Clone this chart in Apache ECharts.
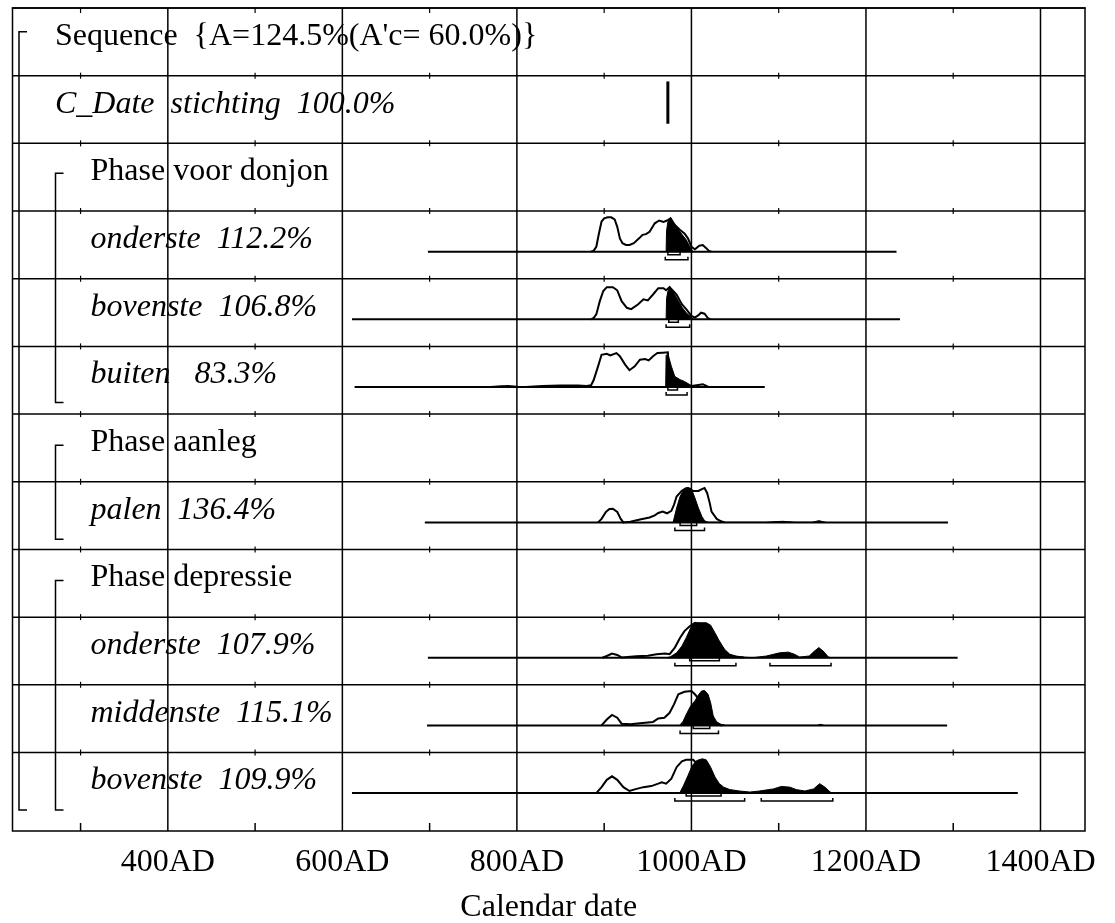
<!DOCTYPE html>
<html><head><meta charset="utf-8">
<script src="https://cdn.jsdelivr.net/npm/echarts@6/dist/echarts.min.js"></script>
<style>html,body{margin:0;padding:0;background:#fff}#c{width:1115px;height:923px}</style>
</head><body><div id="c"></div>
<script>
// ---------- axis data ----------
const xMin = 222, xMax = 1451;
const yMax = 12.16;
const tickLabels = [400, 600, 800, 1000, 1200, 1400];
const gridYears = [400, 600, 800, 1000, 1200, 1400];
const minorTicks = [300, 500, 700, 900, 1100, 1300];
const rowLines = [1, 2, 3, 4, 5, 6, 7, 8, 9, 10, 11];

// ---------- row labels ----------
const rowLabels = [
  "Sequence  {A=124.5%(A'c= 60.0%)}",
  "C_Date  stichting  100.0%",
  "Phase voor donjon",
  "onderste  112.2%",
  "bovenste  106.8%",
  "buiten   83.3%",
  "Phase aanleg",
  "palen  136.4%",
  "Phase depressie",
  "onderste  107.9%",
  "middenste  115.1%",
  "bovenste  109.9%"
];
const rowKinds = ['seq','date','phase','item','item','item','phase','item','phase','item','item','item'];

// group brackets: [topValue, bottomValue, level]
const groupBrackets = [[0.35, 11.85, 0], [2.44, 5.83, 1], [6.46, 7.85, 1], [8.46, 11.85, 1]];

// C_Date stichting
const cDateYear = 973;
const cDateSpan = [1.085, 1.71];

// ---------- distributions: [year, relative height] ----------
const ond1Span = [698, 1235];
const ond1Prior = [[885,0],[888,0.03],[891,0.14],[894,0.52],[897,0.86],[900,0.95],[904,0.98],[908,0.98],[912,0.92],[915,0.71],[918,0.38],[921,0.24],[925,0.19],[929,0.19],[934,0.24],[940,0.38],[944,0.48],[948,0.5],[952,0.57],[958,0.81],[963,0.89],[968,0.85],[972,0.89],[976,0.95],[981,0.76],[987,0.62],[992,0.52],[996,0.38],[1000,0.14],[1004,0.07],[1009,0.17],[1013,0.19],[1017,0.1],[1020,0.02],[1023,0]];
const ond1Post = [[971,0],[971.5,0.6],[973,0.85],[976,0.98],[979,0.85],[983,0.7],[988,0.53],[994,0.34],[999,0.1],[1002,0]];
const ond1S1 = [[973,987]];
const ond1S2 = [[970,996]];

const bov1Span = [611, 1239];
const bov1Prior = [[885,0],[888,0.04],[891,0.14],[895,0.52],[899,0.81],[903,0.92],[910,0.92],[915,0.83],[920,0.52],[926,0.33],[931,0.29],[939,0.43],[945,0.57],[950,0.54],[956,0.71],[962,0.89],[968,0.89],[971,0.83],[975,0.92],[983,0.71],[989,0.43],[994,0.29],[1000,0.1],[1004,0.05],[1008,0.12],[1011,0.19],[1015,0.16],[1019,0.03],[1022,0]];
const bov1Post = [[971,0],[971.5,0.6],[973,0.8],[975.5,0.93],[983,0.62],[989,0.35],[994,0.19],[1000,0.05],[1002,0]];
const bov1S1 = [[974,985]];
const bov1S2 = [[971,998]];

const buiSpan = [614, 1084];
const buiPrior = [[770,0],[782,0.02],[790,0.03],[800,0.01],[810,0],[829,0.03],[850,0.04],[870,0.04],[880,0.03],[885,0.05],[888,0.2],[893,0.59],[897,0.92],[903,0.95],[907,0.9],[914,0.97],[918,0.88],[924,0.64],[929,0.48],[935,0.59],[941,0.78],[947,0.8],[951,0.76],[956,0.88],[961,0.97],[967,0.98],[973,0.99],[974,0.5],[976,0.2],[980,0.05],[990,0.03],[1000,0.03],[1008,0.06],[1013,0.08],[1019,0.01],[1025,0]];
const buiPost = [[970.5,0],[971,0.9],[973,0.95],[977,0.59],[981,0.3],[987,0.21],[992,0.16],[998,0.07],[1002,0.02],[1005,0]];
const buiS1 = [[973,984]];
const buiS2 = [[971,995]];

const palSpan = [694.5, 1294];
const palPrior = [[893,0],[897,0.1],[902,0.3],[906,0.38],[910,0.39],[915,0.3],[919,0.1],[922,0],[930,0.02],[941,0.08],[952,0.14],[958,0.2],[962,0.27],[967,0.31],[972,0.26],[977,0.33],[980,0.5],[983,0.74],[989,0.9],[994,0.98],[1002,0.9],[1008,0.9],[1012,0.95],[1015,0.98],[1018,0.84],[1021,0.55],[1023,0.31],[1029,0.1],[1034,0.03],[1038,0]];
const palPost = [[979,0],[983,0.41],[987,0.74],[991,0.93],[996,1.0],[1000,0.96],[1004,0.7],[1008,0.41],[1012,0.17],[1015,0.05],[1019,0],[1085,0],[1095,0.02],[1105,0.03],[1115,0.01],[1120,0],[1138,0],[1146,0.05],[1154,0]];
const palS1 = [[987,1006]];
const palS2 = [[981,1015]];

const ond2Span = [698, 1305];
const ond2Prior = [[898,0],[903,0.05],[909,0.12],[915,0.08],[920,0.01],[937,0.04],[950,0.06],[960,0.1],[970,0.12],[975,0.1],[981,0.29],[987,0.57],[992,0.76],[998,0.9],[1004,1.0],[1010,0.95],[1018,0.8],[1025,0.55],[1032,0.3],[1040,0.08],[1050,0.03],[1060,0.01]];
const ond2Post = [[972,0],[976,0.03],[983,0.14],[989,0.33],[994,0.57],[1000,0.9],[1004,1.0],[1017,1.0],[1022,0.93],[1027,0.71],[1032,0.48],[1038,0.24],[1044,0.1],[1051,0.05],[1059,0.02],[1070,0],[1086,0.05],[1101,0.14],[1111,0.16],[1118,0.1],[1124,0.02],[1135,0.05],[1141,0.19],[1146,0.29],[1151,0.19],[1157,0.02],[1160,0]];
const ond2S1 = [[998,1032]];
const ond2S2 = [[981,1051],[1090,1160]];

const midSpan = [697, 1293];
const midPrior = [[897,0],[903,0.17],[909,0.3],[915,0.22],[920,0.05],[930,0.03],[941,0.06],[956,0.1],[962,0.2],[969,0.22],[975,0.36],[980,0.6],[985,0.89],[992,0.96],[1000,0.98],[1004,0.89],[1010,0.7],[1018,0.5],[1023,0.2],[1028,0.04],[1035,0]];
const midPost = [[986.5,0],[990.5,0.12],[994,0.31],[999,0.55],[1004,0.7],[1008,0.87],[1011.5,0.98],[1015,1.0],[1019,0.89],[1022,0.65],[1025,0.27],[1029,0.1],[1034,0.03],[1040,0],[1144,0],[1148,0.03],[1152,0]];
const midS1 = [[1002,1021]];
const midS2 = [[987,1031]];

const bov2Span = [611, 1374];
const bov2Prior = [[891,0],[897,0.17],[903,0.38],[909,0.48],[915,0.38],[922,0.17],[929,0.06],[937,0.12],[945,0.17],[954,0.2],[962,0.27],[966,0.31],[971,0.27],[977,0.41],[983,0.74],[989,0.91],[994,0.95],[1002,0.95],[1008,0.8],[1015,0.55],[1022,0.3],[1030,0.1],[1038,0.03],[1045,0]];
const bov2Post = [[986.5,0],[991,0.22],[996,0.5],[1001,0.79],[1006,0.93],[1012.5,0.98],[1017,0.95],[1022,0.74],[1027,0.46],[1032,0.27],[1037,0.17],[1044,0.1],[1055,0.06],[1067,0.03],[1078,0.06],[1094,0.12],[1103,0.19],[1113,0.17],[1120,0.1],[1130,0.06],[1140,0.12],[1147,0.27],[1153,0.17],[1159,0.03],[1162,0]];
const bov2S1 = [[994,1034]];
const bov2S2 = [[981,1061],[1080,1162]];

const dists = [
  {row: 3, span: ond1Span, prior: ond1Prior, post: ond1Post, s1: ond1S1, s2: ond1S2},
  {row: 4, span: bov1Span, prior: bov1Prior, post: bov1Post, s1: bov1S1, s2: bov1S2},
  {row: 5, span: buiSpan, prior: buiPrior, post: buiPost, s1: buiS1, s2: buiS2},
  {row: 7, span: palSpan, prior: palPrior, post: palPost, s1: palS1, s2: palS2},
  {row: 9, span: ond2Span, prior: ond2Prior, post: ond2Post, s1: ond2S1, s2: ond2S2},
  {row: 10, span: midSpan, prior: midPrior, post: midPost, s1: midS1, s2: midS2},
  {row: 11, span: bov2Span, prior: bov2Prior, post: bov2Post, s1: bov2S1, s2: bov2S2}
];

// ---------- rendering ----------
const FONT = '"Liberation Serif", "Times New Roman", serif';
const BASE_OFF = 0.6;   // baseline within a row (row units)
const PEAK_PX = 35;     // pixel height of a full-scale density
const chart = echarts.init(document.getElementById('c'), null, {renderer: 'canvas'});

function ln(p1, p2, w) {
  return {type: 'line', shape: {x1: p1[0], y1: p1[1], x2: p2[0], y2: p2[1]}, style: {stroke: '#000', lineWidth: w}};
}

function renderGridLines(params, api) {
  const yr = gridYears[params.dataIndex];
  return ln(api.coord([yr, 0]), api.coord([yr, yMax]), 1.5);
}
function renderRowLines(params, api) {
  const k = rowLines[params.dataIndex];
  return ln(api.coord([xMin, k]), api.coord([xMax, k]), 1.5);
}
function renderMinor(params, api) {
  const yr = minorTicks[params.dataIndex];
  const ch = [];
  const top = api.coord([yr, 0]);
  ch.push(ln([top[0], top[1]], [top[0], top[1] + 5], 1.2));
  rowLines.forEach(k => {
    const p = api.coord([yr, k]);
    ch.push(ln([p[0], p[1] - 3], [p[0], p[1] + 3], 1.2));
  });
  const b = api.coord([yr, yMax]);
  ch.push(ln([b[0], b[1]], [b[0], b[1] - 8], 1.5));
  return {type: 'group', children: ch};
}
function renderGroups(params, api) {
  const g = groupBrackets[params.dataIndex];
  const x0 = api.coord([xMin, 0])[0] + (g[2] === 0 ? 6.5 : 43);
  const yt = api.coord([xMin, g[0]])[1];
  const yb = api.coord([xMin, g[1]])[1];
  return {type: 'polyline', shape: {points: [[x0 + 8, yt], [x0, yt], [x0, yb], [x0 + 8, yb]]},
          style: {stroke: '#000', lineWidth: 1.5, fill: null}};
}
function renderLabels(params, api) {
  const i = params.dataIndex;
  const kind = rowKinds[i];
  const left = api.coord([xMin, i]);
  const unit = Math.abs(api.coord([xMin, 1])[1] - api.coord([xMin, 0])[1]);
  const x = left[0] + ((kind === 'seq' || kind === 'date') ? 42.5 : 78);
  const y = left[1] + 28.5 / 67.7 * unit;
  const italic = (kind === 'item' || kind === 'date');
  return {type: 'text', x: x, y: y, style: {text: rowLabels[i], fill: '#000',
          font: (italic ? 'italic ' : '') + '32px ' + FONT, verticalAlign: 'middle', align: 'left'}};
}
function renderCDate(params, api) {
  const a = api.coord([cDateYear, cDateSpan[0]]);
  const b = api.coord([cDateYear, cDateSpan[1]]);
  return ln(a, b, 3);
}
function renderDist(params, api) {
  const d = dists[params.dataIndex];
  const base = d.row + BASE_OFF;
  const by = api.coord([xMin, base])[1];
  const pt = p => { const c = api.coord([p[0], base]); return [c[0], by - p[1] * PEAK_PX]; };
  const ch = [];
  ch.push(ln(api.coord([d.span[0], base]), api.coord([d.span[1], base]), 2));
  ch.push({type: 'polyline', shape: {points: d.prior.map(pt)}, style: {stroke: '#000', fill: null, lineWidth: 2}});
  ch.push({type: 'polygon', shape: {points: d.post.map(pt)}, style: {fill: '#000', stroke: '#000', lineWidth: 1}});
  const br = (ranges, off) => ranges.forEach(r => {
    const xs = api.coord([r[0], base])[0], xe = api.coord([r[1], base])[0];
    const y = by + off;
    ch.push({type: 'polyline', shape: {points: [[xs, y - 3], [xs, y], [xe, y], [xe, y - 3]]},
             style: {stroke: '#000', fill: null, lineWidth: 1.5}});
  });
  br(d.s1, 3);
  br(d.s2, 8);
  return {type: 'group', children: ch};
}

chart.setOption({
  backgroundColor: '#fff',
  animation: false,
  grid: {left: 12.5, right: 30, top: 8, bottom: 92, containLabel: false, outerBoundsMode: 'none',
         show: true, borderColor: '#000', borderWidth: 1.5, backgroundColor: 'transparent'},
  xAxis: {
    type: 'value', min: xMin, max: xMax,
    axisLine: {show: true, lineStyle: {color: '#000', width: 1.5}},
    axisTick: {show: false},
    splitLine: {show: false},
    axisLabel: {customValues: tickLabels, formatter: v => v + 'AD', fontFamily: FONT, fontSize: 32, color: '#000', margin: 16},
    name: 'Calendar date', nameLocation: 'middle', nameGap: 61,
    nameTextStyle: {fontFamily: FONT, fontSize: 32, color: '#000'}
  },
  yAxis: {type: 'value', inverse: true, min: 0, max: yMax, show: false},
  series: [
    {type: 'custom', z: 1, renderItem: renderGridLines, data: gridYears.map(y => [y, 0]), silent: true},
    {type: 'custom', z: 1, renderItem: renderRowLines, data: rowLines.map(k => [xMin, k]), silent: true},
    {type: 'custom', z: 1, renderItem: renderMinor, data: minorTicks.map(y => [y, 0]), silent: true},
    {type: 'custom', z: 2, renderItem: renderGroups, data: groupBrackets.map(g => [xMin, g[0]]), silent: true},
    {type: 'custom', z: 3, renderItem: renderDist, data: dists.map(d => [d.span[0], d.row]), silent: true},
    {type: 'custom', z: 3, renderItem: renderCDate, data: [[cDateYear, cDateSpan[0]]], silent: true},
    {type: 'custom', z: 4, renderItem: renderLabels, data: rowLabels.map((t, i) => [xMin, i]), silent: true}
  ]
});
</script></body></html>
